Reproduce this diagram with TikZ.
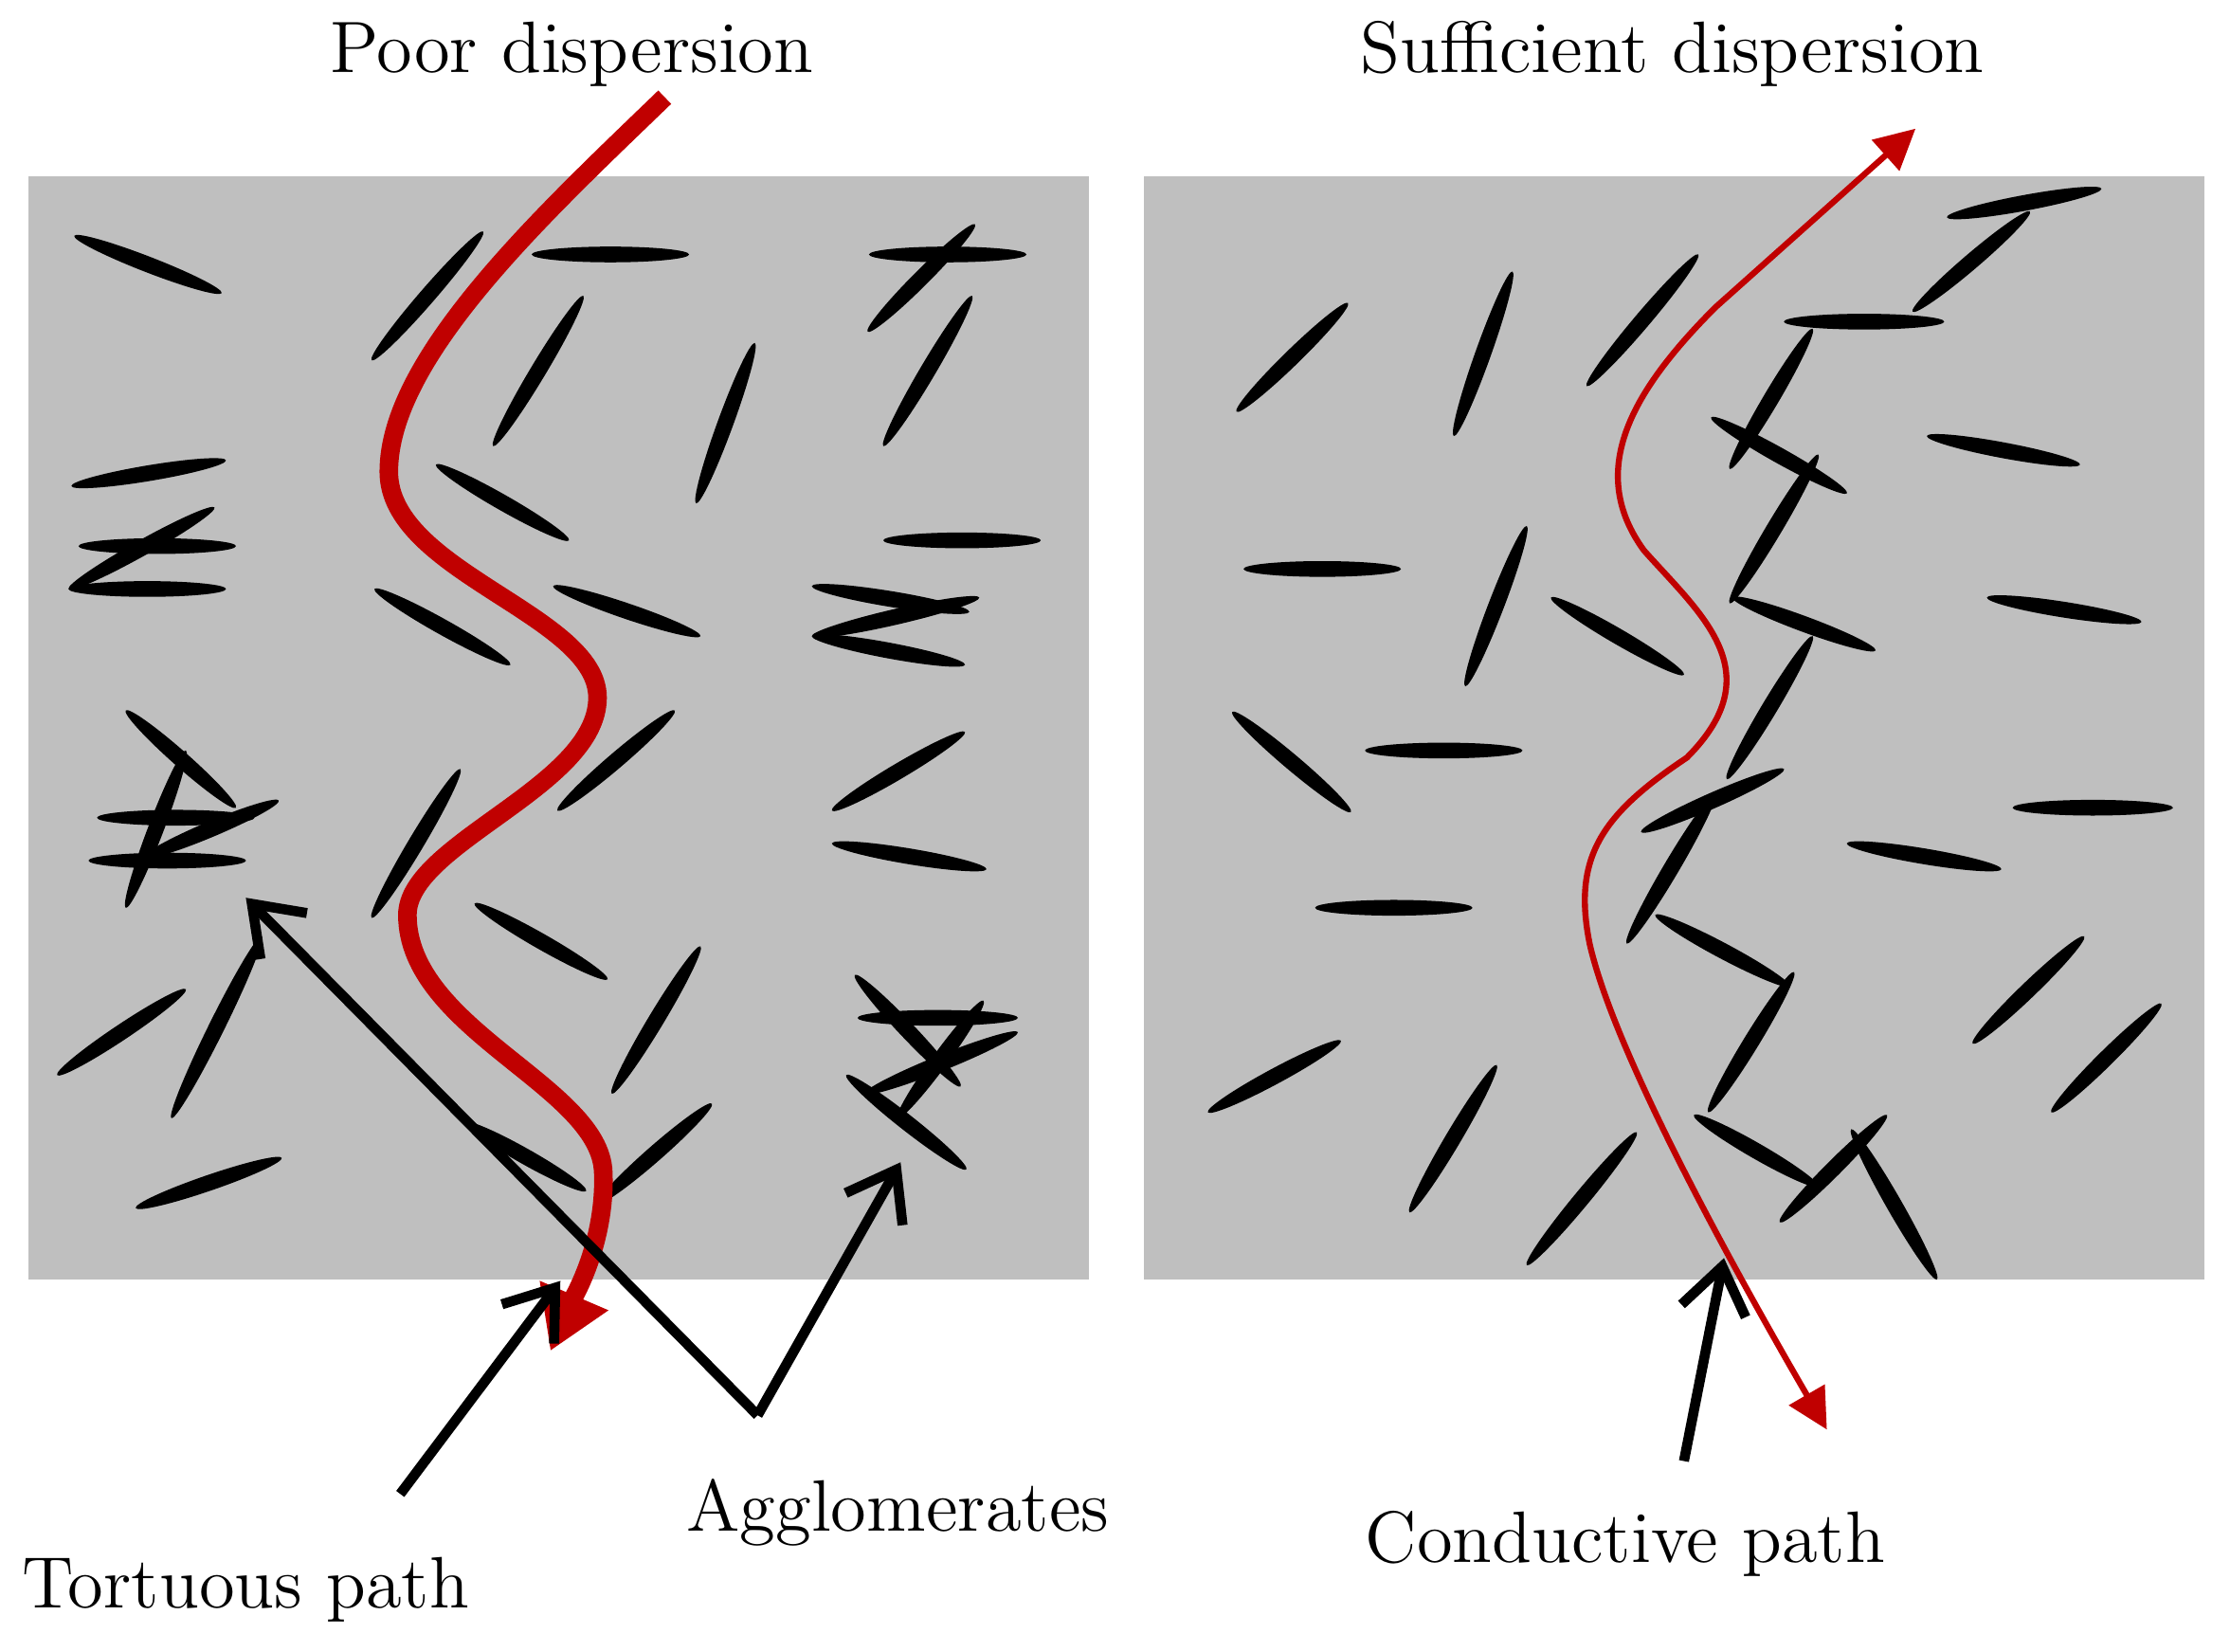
\documentclass[tikz,border=0pt]{standalone}
\usetikzlibrary{arrows.meta}
\definecolor{panel}{HTML}{BFBFBF}
\definecolor{dred}{HTML}{C00000}
\newcommand\el[4]{%
 \pgfmathsetmacro\elang{atan2(-(#4-#2),#3-#1)}%
 \pgfmathsetmacro\ellen{veclen(#3-#1,#4-#2)*0.005}%
 \fill[shift={({(#1+#3)/2},{(#2+#4)/2})},rotate=\elang] (0,0) ellipse [x radius=\ellen cm, y radius=0.055cm];}
\tikzset{
 lbl/.style={font=\fontsize{14.5}{17}\selectfont, inner sep=0},
 blk/.style={line width=2pt, -{Straight Barb[length=9pt,width=13pt,line width=2pt]}},
}
\begin{document}
\begin{tikzpicture}[x=0.01cm,y=-0.01cm]
\useasboundingbox (0,0) rectangle (1560,1155);
\fill[panel] (20,123) rectangle (762,895);
\fill[panel] (800,123) rectangle (1542,895);
% left ellipses
\el{52}{165}{155}{205}\el{260}{252}{338}{162}\el{372}{178}{482}{178}\el{345}{312}{408}{207}
\el{608}{178}{718}{178}\el{607}{232}{682}{157}\el{618}{312}{680}{207}\el{487}{352}{528}{240}
\el{50}{340}{158}{322}\el{55}{382}{165}{382}\el{48}{412}{150}{355}\el{48}{412}{158}{412}
\el{305}{325}{398}{378}\el{618}{378}{728}{378}\el{262}{412}{357}{465}\el{387}{410}{490}{445}
\el{568}{410}{678}{428}\el{568}{445}{685}{418}\el{568}{445}{675}{465}
\el{88}{497}{165}{565}\el{88}{635}{130}{525}\el{68}{572}{178}{572}\el{100}{600}{195}{560}\el{62}{602}{172}{602}
\el{260}{642}{322}{538}\el{390}{567}{472}{497}\el{582}{567}{675}{512}\el{582}{590}{690}{608}
\el{332}{632}{425}{685}\el{40}{752}{130}{692}\el{120}{782}{183}{655}\el{428}{765}{490}{662}
\el{95}{845}{197}{810}\el{325}{785}{410}{833}\el{418}{842}{498}{772}
\el{598}{682}{672}{760}\el{600}{712}{712}{712}\el{605}{765}{712}{722}\el{592}{752}{676}{818}\el{628}{782}{688}{700}
% right ellipses
\el{865}{288}{943}{212}\el{1017}{305}{1058}{190}\el{1110}{270}{1188}{178}\el{1338}{218}{1420}{148}
\el{1362}{152}{1470}{132}\el{1248}{225}{1360}{225}\el{1210}{328}{1268}{230}\el{1197}{292}{1292}{345}
\el{1348}{305}{1455}{325}\el{870}{398}{980}{398}\el{1025}{480}{1068}{368}\el{1085}{418}{1178}{472}
\el{1210}{422}{1272}{318}\el{1212}{418}{1312}{455}\el{1390}{418}{1498}{435}
\el{862}{498}{945}{568}\el{955}{525}{1065}{525}\el{1208}{545}{1268}{445}\el{1148}{582}{1248}{538}
\el{1138}{660}{1200}{555}\el{1408}{565}{1520}{565}\el{1292}{590}{1400}{608}\el{920}{635}{1030}{635}
\el{1158}{640}{1252}{690}\el{1380}{730}{1458}{655}\el{1435}{778}{1512}{702}\el{845}{778}{938}{728}
\el{1195}{778}{1255}{680}\el{986}{848}{1047}{745}\el{1068}{885}{1145}{792}\el{1185}{780}{1272}{830}
\el{1245}{855}{1320}{780}\el{1295}{790}{1355}{895}
% red paths
\draw[dred, line width=3.7pt, -{Triangle[length=12pt,width=14pt]}]
 (465,68) .. controls (380,150) and (272,250) .. (272,330)
 .. controls (272,400) and (418,430) .. (418,488)
 .. controls (418,550) and (285,590) .. (285,640)
 .. controls (285,720) and (420,760) .. (422,820)
 .. controls (424,870) and (400,910) .. (385,945);
\draw[dred, line width=1.2pt, {Triangle[length=8pt,width=8pt]}-{Triangle[length=8pt,width=8pt]}]
 (1340,90) -- (1200,215) .. controls (1140,275) and (1110,330) .. (1150,385)
 .. controls (1190,430) and (1240,470) .. (1180,530)
 .. controls (1120,570) and (1100,600) .. (1112,660)
 .. controls (1130,740) and (1220,900) .. (1278,1000);
% labels
\node[lbl] (t1) at (400,38) {Poor dispersion};
\node[lbl] (t2) at (1170,38) {Sufficient dispersion};
\node[lbl] (t3) at (172,1112) {Tortuous path};
\node[lbl] (t4) at (628,1058) {Agglomerates};
\node[lbl] (t5) at (1137,1080) {Conductive path};
\coordinate (ag) at (530,990);
\coordinate (tp) at (280,1045);
\coordinate (cp) at (1178,1022);
\draw[blk] (ag) -- (172,628);
\draw[blk] (ag) -- (630,813);
\draw[blk] (tp) -- (392,896);
\draw[blk] (cp) -- (1206,880);
\end{tikzpicture}
\end{document}
